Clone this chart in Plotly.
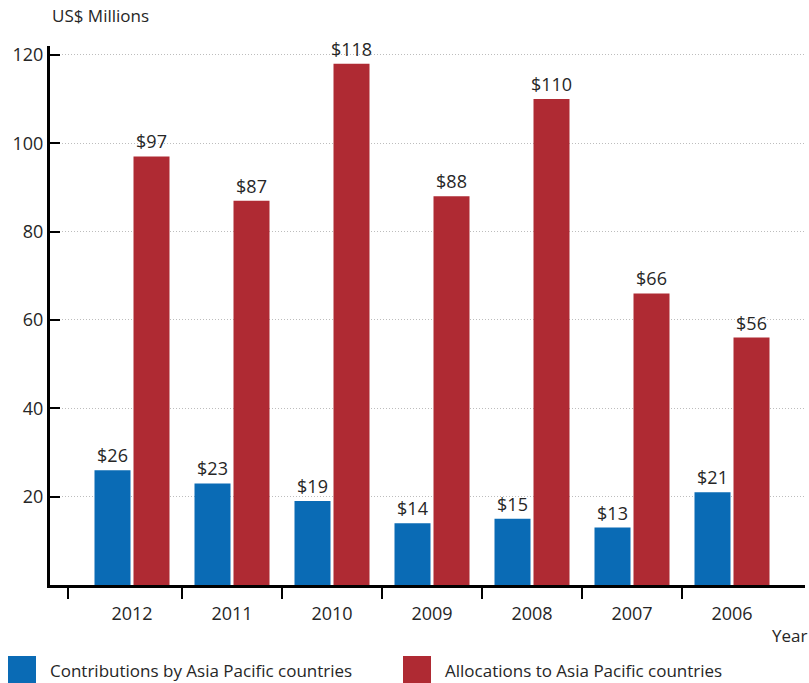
import plotly.graph_objects as go

years = ["2012", "2011", "2010", "2009", "2008", "2007", "2006"]
contributions = [26, 23, 19, 14, 15, 13, 21]
allocations = [97, 87, 118, 88, 110, 66, 56]
y_ticks = [20, 40, 60, 80, 100, 120]
series_names = ["Contributions by Asia Pacific countries", "Allocations to Asia Pacific countries"]

BLUE = "#0A6BB5"
RED = "#AF2A33"
FONT = "Open Sans, Noto Sans, sans-serif"
TXT = "#262626"

W, H = 809, 683
L, R, T, B = 50, 4, 46, 98
pw, ph = W - L - R, H - T - B


def px_x(p):
    return (p - L) / pw


def px_y(p):
    return (H - B - p) / ph


xpos = list(range(len(years)))

fig = go.Figure()
fig.add_trace(go.Bar(
    x=xpos, y=contributions, width=0.36, offset=-0.375,
    marker=dict(color=BLUE, line=dict(width=0)),
    text=[f"${v}" for v in contributions], textposition="outside",
    constraintext="none",
    textfont=dict(size=18, color=TXT, family=FONT), cliponaxis=False,
    name=series_names[0], showlegend=False,
))
fig.add_trace(go.Bar(
    x=xpos, y=allocations, width=0.36, offset=0.015,
    marker=dict(color=RED, line=dict(width=0)),
    text=[f"${v}" for v in allocations], textposition="outside",
    constraintext="none",
    textfont=dict(size=18, color=TXT, family=FONT), cliponaxis=False,
    name=series_names[1], showlegend=False,
))

fig.update_layout(
    width=W, height=H,
    margin=dict(l=L, r=R, t=T, b=B),
    paper_bgcolor="white", plot_bgcolor="white",
    font=dict(family=FONT, size=18, color=TXT),
    barmode="overlay",
)

fig.update_xaxes(
    range=[-0.82, 6.73],
    tickmode="array", tickvals=xpos, ticktext=years,
    ticks="", showgrid=False, zeroline=False,
    showline=True, linecolor="black", linewidth=3,
    tickfont=dict(size=18, color=TXT, family=FONT),
    ticklabelstandoff=10,
    minor=dict(tickmode="array", tickvals=[-0.64, 0.5, 1.5, 2.5, 3.5, 4.5, 5.5],
               ticks="outside", ticklen=11, tickwidth=1.5, tickcolor="black", showgrid=False),
)
fig.update_yaxes(
    range=[0, 122],
    tickmode="array", tickvals=y_ticks, ticktext=[str(v) for v in y_ticks],
    ticks="inside", ticklen=10, tickwidth=1.5, tickcolor="black",
    showgrid=True, gridcolor="#BDBDBD", griddash="1px,2px", gridwidth=1,
    zeroline=False, showline=True, linecolor="black", linewidth=3,
    tickfont=dict(size=18, color=TXT, family=FONT),
)

# Axis titles
fig.add_annotation(text="US$ Millions", xref="paper", yref="paper",
                   x=px_x(50), y=px_y(16), xanchor="left", yanchor="middle",
                   showarrow=False, font=dict(size=17, color=TXT, family=FONT))
fig.add_annotation(text="Year", xref="paper", yref="paper",
                   x=px_x(809), y=px_y(635), xanchor="right", yanchor="middle",
                   showarrow=False, font=dict(size=17, color=TXT, family=FONT))

# Legend
legend_items = [(8, 48, BLUE, series_names[0]), (403, 443, RED, series_names[1])]
for sx, tx, col, name in legend_items:
    fig.add_shape(type="rect", xref="paper", yref="paper",
                  x0=px_x(sx), x1=px_x(sx + 28), y0=px_y(656), y1=px_y(683),
                  fillcolor=col, line=dict(width=0))
    fig.add_annotation(text=name, xref="paper", yref="paper",
                       x=px_x(tx), y=px_y(670), xanchor="left", yanchor="middle",
                       showarrow=False, font=dict(size=17, color=TXT, family=FONT))

fig.write_html("out.html")
